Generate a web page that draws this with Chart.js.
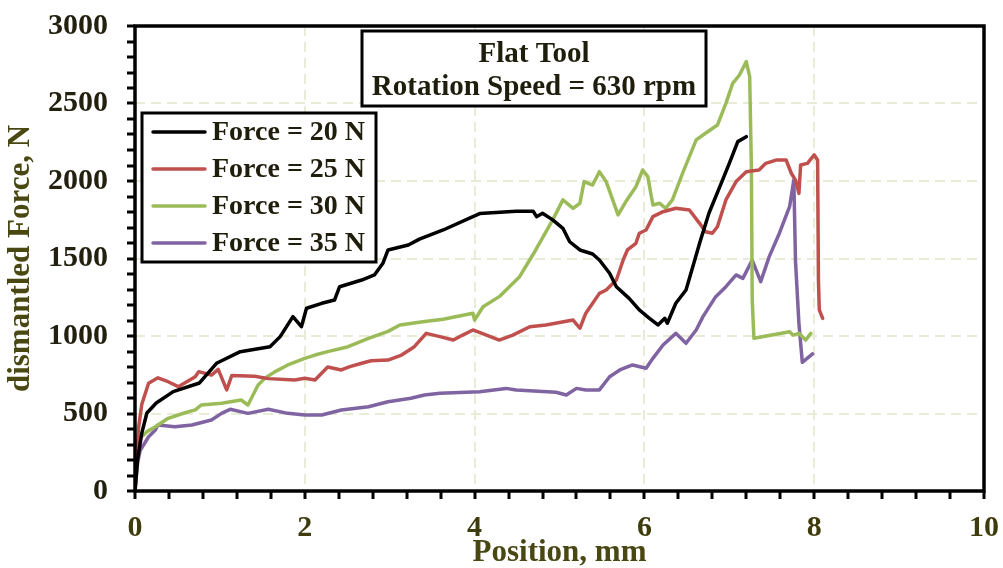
<!DOCTYPE html>
<html>
<head>
<meta charset="utf-8">
<script src="https://cdn.jsdelivr.net/npm/chart.js@4.4.1/dist/chart.umd.min.js"></script>
<style>
  html, body { margin: 0; padding: 0; background: #fff; }
  #wrap { width: 1003px; height: 568px; }
</style>
</head>
<body>
<div id="wrap"><canvas id="chart"></canvas></div>
<script>
// valores: [posição mm, força N]
const f20 = [[0,0],[0.03,200],[0.08,374],[0.14,503],[0.25,568],[0.45,641],[0.76,697],[0.96,824],[1.24,899],[1.59,931],[1.71,996],[1.86,1125],[1.96,1060],[2.02,1179],[2.2,1211],[2.35,1232],[2.41,1318],[2.67,1361],[2.82,1394],[2.92,1469],[2.98,1555],[3.22,1587],[3.35,1625],[3.63,1684],[3.98,1770],[4.06,1790],[4.49,1805],[4.69,1805],[4.73,1770],[4.8,1792],[4.92,1749],[5.04,1695],[5.12,1608],[5.24,1555],[5.39,1529],[5.47,1490],[5.59,1405],[5.67,1318],[5.82,1243],[5.94,1168],[6.06,1114],[6.16,1071],[6.24,1114],[6.27,1082],[6.37,1211],[6.49,1297],[6.57,1447],[6.65,1598],[6.76,1792],[6.92,2006],[7.0,2114],[7.1,2254],[7.2,2286]];
const f25 = [[0,0],[0.04,400],[0.08,560],[0.16,695],[0.27,730],[0.39,705],[0.51,673],[0.71,737],[0.75,770],[0.9,748],[0.98,785],[1.08,652],[1.14,745],[1.41,740],[1.57,725],[1.88,716],[2.0,727],[2.12,716],[2.27,800],[2.43,781],[2.53,802],[2.67,824],[2.78,840],[2.98,845],[3.14,877],[3.29,931],[3.43,1017],[3.59,996],[3.75,974],[3.86,1006],[3.98,1039],[4.14,1006],[4.29,974],[4.45,1006],[4.65,1060],[4.84,1071],[5.16,1103],[5.24,1050],[5.31,1147],[5.47,1275],[5.55,1297],[5.67,1361],[5.75,1490],[5.8,1555],[5.9,1598],[5.94,1663],[6.02,1684],[6.1,1770],[6.22,1802],[6.37,1824],[6.53,1813],[6.65,1727],[6.72,1673],[6.8,1663],[6.86,1705],[6.96,1878],[7.08,1996],[7.2,2060],[7.35,2071],[7.43,2114],[7.55,2135],[7.67,2135],[7.73,2050],[7.78,2006],[7.82,1920],[7.84,2103],[7.92,2114],[8.0,2168],[8.04,2135],[8.05,1361],[8.06,1168],[8.1,1114]];
const f30 = [[0,0],[0.03,250],[0.06,340],[0.14,383],[0.24,415],[0.39,469],[0.59,505],[0.71,523],[0.78,555],[1.02,566],[1.25,587],[1.33,555],[1.45,684],[1.53,727],[1.65,770],[1.8,813],[2.0,856],[2.12,877],[2.27,899],[2.51,931],[2.75,985],[2.98,1030],[3.12,1071],[3.39,1092],[3.63,1108],[3.98,1147],[4.0,1103],[4.1,1189],[4.29,1254],[4.53,1383],[4.72,1555],[4.92,1749],[5.04,1878],[5.16,1824],[5.24,1856],[5.29,1996],[5.39,1974],[5.47,2060],[5.55,1996],[5.69,1781],[5.78,1866],[5.9,1963],[5.98,2071],[6.04,2028],[6.1,1845],[6.18,1856],[6.25,1824],[6.33,1878],[6.45,2050],[6.61,2265],[6.72,2308],[6.86,2361],[6.96,2501],[7.04,2630],[7.12,2684],[7.2,2770],[7.24,2673],[7.26,2093],[7.27,1232],[7.29,985],[7.71,1028],[7.75,1006],[7.82,1017],[7.9,974],[7.96,1017]];
const f35 = [[0,0],[0.03,180],[0.06,260],[0.16,350],[0.24,394],[0.27,426],[0.47,415],[0.67,426],[0.9,458],[1.02,501],[1.12,527],[1.33,501],[1.57,527],[1.8,501],[2.0,490],[2.2,490],[2.43,523],[2.75,544],[2.98,576],[3.25,598],[3.41,619],[3.59,630],[4.06,641],[4.37,662],[4.49,652],[4.96,637],[5.08,619],[5.2,662],[5.31,652],[5.47,652],[5.59,737],[5.71,781],[5.86,813],[6.02,792],[6.1,856],[6.22,942],[6.37,1017],[6.49,953],[6.61,1039],[6.69,1125],[6.84,1254],[6.96,1318],[7.08,1394],[7.16,1372],[7.27,1490],[7.37,1351],[7.47,1512],[7.59,1663],[7.71,1834],[7.76,2006],[7.78,1480],[7.82,1082],[7.86,830],[7.98,885]];

const seriesLabels = ['Force = 20 N', 'Force = 25 N', 'Force = 30 N', 'Force = 35 N'];
const seriesColors = ['#000000', '#c0504d', '#9bbb59', '#8064a2'];
const xTickLabels = ['0', '2', '4', '6', '8', '10'];
const yTickLabels = ['0', '500', '1000', '1500', '2000', '2500', '3000'];
const titleLines = ['Flat Tool', 'Rotation Speed = 630 rpm'];

const SERIF = '"Liberation Serif", "Times New Roman", serif';
const GRID = '#e8ebd5';

// grade só nos ticks principais (a cada 5), nunca nas bordas
function gridColor(ctx) {
  const last = ctx.scale.ticks.length - 1;
  return (ctx.index % 5 === 0 && ctx.index > 0 && ctx.index < last) ? GRID : 'rgba(0,0,0,0)';
}

// zera o padding automático das escalas para a área do gráfico ficar fixa
function fixScale(size) {
  return s => {
    if (s.isHorizontal()) s.height = size; else s.width = size;
    s.paddingTop = 0;
    s.paddingBottom = 0;
    s.paddingLeft = 0;
    s.paddingRight = 0;
  };
}

const framePlugin = {
  id: 'plotFrame',
  afterDatasetsDraw(chart) {
    const { ctx, chartArea: a } = chart;
    ctx.save();
    ctx.strokeStyle = '#000';
    ctx.lineWidth = 3.5;
    ctx.strokeRect(a.left, a.top, a.right - a.left, a.bottom - a.top);
    ctx.restore();
  }
};

const titleBoxPlugin = {
  id: 'titleBox',
  afterDatasetsDraw(chart) {
    const { ctx, chartArea: a } = chart;
    const x = a.left + 227, y = a.top + 5, w = 344, h = 75;
    ctx.save();
    ctx.fillStyle = '#fff';
    ctx.fillRect(x, y, w, h);
    ctx.strokeStyle = '#000';
    ctx.lineWidth = 3;
    ctx.strokeRect(x, y, w, h);
    ctx.fillStyle = '#1f1d0c';
    ctx.font = 'bold 29px ' + SERIF;
    ctx.textAlign = 'center';
    ctx.textBaseline = 'alphabetic';
    ctx.fillText(titleLines[0], x + w / 2, y + 31);
    ctx.fillText(titleLines[1], x + w / 2, y + 64);
    ctx.restore();
  }
};

const legendBoxPlugin = {
  id: 'legendBox',
  afterDatasetsDraw(chart) {
    const { ctx, chartArea: a } = chart;
    const x = a.left + 7, y = a.top + 87, w = 234, h = 149;
    ctx.save();
    ctx.fillStyle = '#fff';
    ctx.fillRect(x, y, w, h);
    ctx.strokeStyle = '#000';
    ctx.lineWidth = 3;
    ctx.strokeRect(x, y, w, h);
    ctx.font = 'bold 28px ' + SERIF;
    ctx.textAlign = 'left';
    ctx.textBaseline = 'middle';
    chart.data.datasets.forEach((ds, i) => {
      const ly = y + 19 + i * 37;
      ctx.strokeStyle = ds.borderColor;
      ctx.lineWidth = 3.5;
      ctx.lineCap = 'round';
      ctx.beginPath();
      ctx.moveTo(x + 11, ly);
      ctx.lineTo(x + 63, ly);
      ctx.stroke();
      ctx.fillStyle = '#1f1d0c';
      ctx.fillText(ds.label, x + 70, ly + 1);
    });
    ctx.restore();
  }
};

const datasets = [f20, f25, f30, f35].map((pts, i) => ({
  label: seriesLabels[i],
  data: pts.map(p => ({ x: p[0], y: p[1] })),
  borderColor: seriesColors[i],
  backgroundColor: seriesColors[i],
  borderWidth: 3.5,
  pointRadius: 0,
  tension: 0,
  borderJoinStyle: 'round',
  borderCapStyle: 'round',
  fill: false
}));

new Chart(document.getElementById('chart'), {
  type: 'line',
  data: { datasets },
  options: {
    responsive: true,
    maintainAspectRatio: false,
    animation: false,
    layout: { padding: { top: 26, right: 19, left: 0, bottom: 0 } },
    plugins: {
      legend: { display: false },
      tooltip: { enabled: false },
      title: { display: false }
    },
    scales: {
      x: {
        type: 'linear',
        min: 0,
        max: 10,
        afterFit: fixScale(77),
        ticks: {
          stepSize: 0.4,
          autoSkip: false,
          maxRotation: 0,
          padding: 11,
          color: '#3e3c0c',
          font: { family: SERIF, size: 30, weight: 'bold' },
          callback: (v, i) => (i % 5 === 0 ? xTickLabels[i / 5] : '')
        },
        grid: {
          color: gridColor,
          lineWidth: 2,
          borderDash: [10, 6],
          tickLength: 8,
          tickColor: '#000',
          tickWidth: 3,
          tickBorderDash: []
        },
        border: { display: false, dash: [10, 6] },
        title: {
          display: true,
          text: 'Position, mm',
          color: '#4a4812',
          font: { family: SERIF, size: 31, weight: 'bold', lineHeight: 1 },
          padding: { top: 0, bottom: 0 }
        }
      },
      y: {
        min: 0,
        max: 3000,
        afterFit: fixScale(135),
        ticks: {
          stepSize: 100,
          autoSkip: false,
          padding: 19,
          color: '#23200f',
          font: { family: SERIF, size: 30, weight: 'bold' },
          callback: (v, i) => (i % 5 === 0 ? yTickLabels[i / 5] : '')
        },
        grid: {
          color: gridColor,
          lineWidth: 2,
          borderDash: [10, 6],
          tickLength: 8,
          tickColor: '#000',
          tickWidth: 3,
          tickBorderDash: []
        },
        border: { display: false, dash: [10, 6] },
        title: {
          display: true,
          text: 'dismantled Force, N',
          color: '#4a4812',
          font: { family: SERIF, size: 31, weight: 'bold', lineHeight: 1 },
          padding: { top: 5, bottom: 0 }
        }
      }
    }
  },
  plugins: [framePlugin, titleBoxPlugin, legendBoxPlugin]
});
</script>
</body>
</html>
